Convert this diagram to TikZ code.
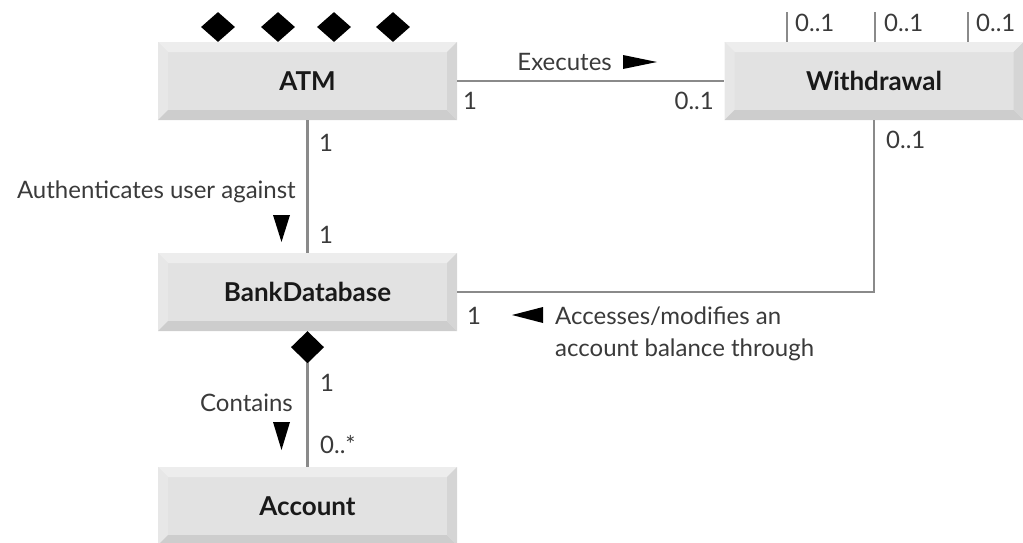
\documentclass[tikz,border=0pt]{standalone}
\usepackage{fontspec}
\setmainfont{Lato}
\usetikzlibrary{arrows.meta,shapes.geometric,calc}
\definecolor{linegray}{HTML}{8A8A8A}
\definecolor{txtgray}{HTML}{3A3A3A}
\definecolor{faceg}{HTML}{E2E2E2}
\definecolor{topg}{HTML}{EDEDED}
\definecolor{leftg}{HTML}{E7E7E7}
\definecolor{botg}{HTML}{CDCDCD}
\definecolor{rightg}{HTML}{D5D5D5}
\tikzset{
  umlbox/.style={minimum width=299pt, minimum height=78pt, inner sep=0pt,
    font=\fontsize{26}{30}\selectfont\bfseries, text=black!90,
    path picture={
      \coordinate (pnw) at (path picture bounding box.north west);
      \coordinate (pne) at (path picture bounding box.north east);
      \coordinate (psw) at (path picture bounding box.south west);
      \coordinate (pse) at (path picture bounding box.south east);
      \fill[faceg] (pnw) rectangle (pse);
      \fill[topg] (pnw) -- (pne) -- ([xshift=-10pt,yshift=-10pt]pne) -- ([xshift=10pt,yshift=-10pt]pnw) -- cycle;
      \fill[leftg] (pnw) -- (psw) -- ([xshift=10pt,yshift=10pt]psw) -- ([xshift=10pt,yshift=-10pt]pnw) -- cycle;
      \fill[botg] (psw) -- (pse) -- ([xshift=-10pt,yshift=10pt]pse) -- ([xshift=10pt,yshift=10pt]psw) -- cycle;
      \fill[rightg] (pne) -- (pse) -- ([xshift=-10pt,yshift=10pt]pse) -- ([xshift=-10pt,yshift=-10pt]pne) -- cycle;
    }},
  conn/.style={draw=linegray, line width=2.6pt},
  lbl/.style={inner sep=0pt, text=txtgray, font=\fontsize{24}{28}\selectfont},
  comp/.style={diamond, fill=black, minimum width=34pt, minimum height=30pt, inner sep=0pt}
}
\begin{document}
\begin{tikzpicture}[x=1pt,y=-1pt]
\path[use as bounding box] (0,0) rectangle (1023,542);
\clip (0,0) rectangle (1023,542);

% boxes
\node[umlbox] (atm) at (307.5,81) {ATM};
\node[umlbox] (wd) at (874,81) {Withdrawal};
\node[umlbox] (bank) at (307.5,292) {BankDatabase};
\node[umlbox] (acct) at (307.5,506) {Account};

% composition diamonds on ATM
\node[comp] (d1) at (218,27) {};
\node[comp] (d2) at (278,27) {};
\node[comp] (d3) at (334,27) {};
\node[comp] (d4) at (393,27) {};

% free ends on Withdrawal top
\coordinate (w1) at (787,12);
\coordinate (w2) at (875,12);
\coordinate (w3) at (968,12);
\draw[conn] (w1) -- (w1 |- wd.north);
\draw[conn] (w2) -- (w2 |- wd.north);
\draw[conn] (w3) -- (w3 |- wd.north);

% connectors
\draw[conn] (atm.east) -- (wd.west);
\draw[conn] (atm.south) -- (bank.north);
\draw[conn] (wd.south) |- (bank.east);
\draw[conn, {Diamond[length=32pt,width=33pt,black]}-] (bank.south) -- (acct.north);

% labels
\node[lbl, anchor=east] (ex) at (612,62) {Executes};
\fill[black] (623,55) -- (657,62) -- (623,69) -- cycle;
\node[lbl] (m1) at (470,101) {1};
\node[lbl, anchor=east] (m2) at (714,101) {0..1};
\node[lbl, anchor=west] (m3) at (886,140) {0..1};
\node[lbl, anchor=west] (t1) at (795,23) {0..1};
\node[lbl, anchor=west] (t2) at (884,23) {0..1};
\node[lbl, anchor=west] (t3) at (976,23) {0..1};
\node[lbl] (m4) at (326,143) {1};
\node[lbl] (m5) at (326,235) {1};
\node[lbl, anchor=east] (auth) at (296,192) {Authenticates user against};
\fill[black] (273,215) -- (290,215) -- (281.5,242) -- cycle;
\node[lbl] (m6) at (474,316) {1};
\fill[black] (512,315) -- (543,307) -- (543,323) -- cycle;
\node[lbl, anchor=west] (acc1) at (555,316) {Accesses/modifies an};
\node[lbl, anchor=west] (acc2) at (555,350) {account balance through};
\node[lbl] (m7) at (327,383) {1};
\node[lbl, anchor=east] (cont) at (293,403) {Contains};
\fill[black] (273,422) -- (290,422) -- (281.5,450) -- cycle;
\node[lbl, anchor=west] (m8) at (320,445) {0..*};
\end{tikzpicture}
\end{document}
